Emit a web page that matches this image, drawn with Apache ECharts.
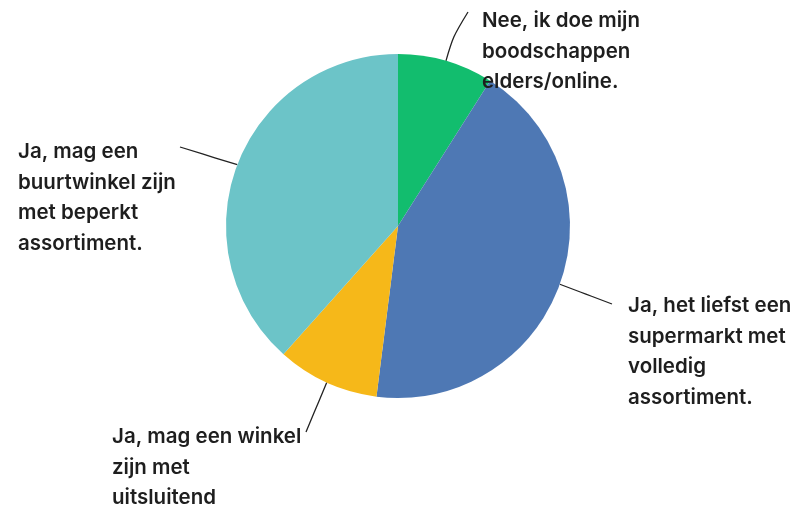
<!DOCTYPE html>
<html><head><meta charset="utf-8">
<script src="https://cdn.jsdelivr.net/npm/echarts@6/dist/echarts.min.js"></script>
<style>html,body{margin:0;padding:0;background:#fff}#c{width:800px;height:506px}</style>
</head><body><div id="c"></div>
<script>
const categories = [
  "Nee, ik doe mijn\nboodschappen\nelders/online.",
  "Ja, het liefst een\nsupermarkt met\nvolledig\nassortiment.",
  "Ja, mag een winkel\nzijn met\nuitsluitend",
  "Ja, mag een\nbuurtwinkel zijn\nmet beperkt\nassortiment."
];
const values = [9, 43, 9.6, 38.4];
const colors = ["#12bd6e", "#4e78b4", "#f6b819", "#6cc4c8"];

const cx = 398, cy = 226, R = 172;
const labelPos = [[482, 6], [628, 291], [112, 422], [18, 137]];
const lineEnds = [[468, 12], [612, 304], [306, 432], [180, 147]];

const total = values.reduce((a, b) => a + b, 0);
function edgePoint(i) {
  let cum = 0;
  for (let k = 0; k < i; k++) cum += values[k];
  const mid = (cum + values[i] / 2) / total * 2 * Math.PI;
  return [cx + R * Math.sin(mid), cy - R * Math.cos(mid)];
}

const chart = echarts.init(document.getElementById('c'), null, {renderer: 'canvas'});
chart.setOption({
  animation: false,
  series: [{
    type: 'pie',
    center: [cx, cy],
    radius: R,
    startAngle: 90,
    clockwise: true,
    data: categories.map((n, i) => ({name: n, value: values[i], itemStyle: {color: colors[i]}})),
    itemStyle: {borderWidth: 0},
    label: {
      show: true,
      formatter: '{b}',
      color: '#1e1e1e',
      fontFamily: 'Inter',
      fontWeight: 600,
      fontSize: 20.5,
      lineHeight: 30.5,
      align: 'left'
    },
    labelLine: {show: true, lineStyle: {color: '#222', width: 1.3}, smooth: 0.3},
    labelLayout: function (p) {
      const i = p.dataIndex;
      const e = edgePoint(i);
      const t = lineEnds[i];
      const m = [(e[0] + t[0]) / 2 + (i === 0 ? -4 : 0), (e[1] + t[1]) / 2];
      return {
        x: labelPos[i][0], y: labelPos[i][1],
        align: 'left', verticalAlign: 'top',
        labelLinePoints: [e, m, t]
      };
    }
  }]
});
</script></body></html>
